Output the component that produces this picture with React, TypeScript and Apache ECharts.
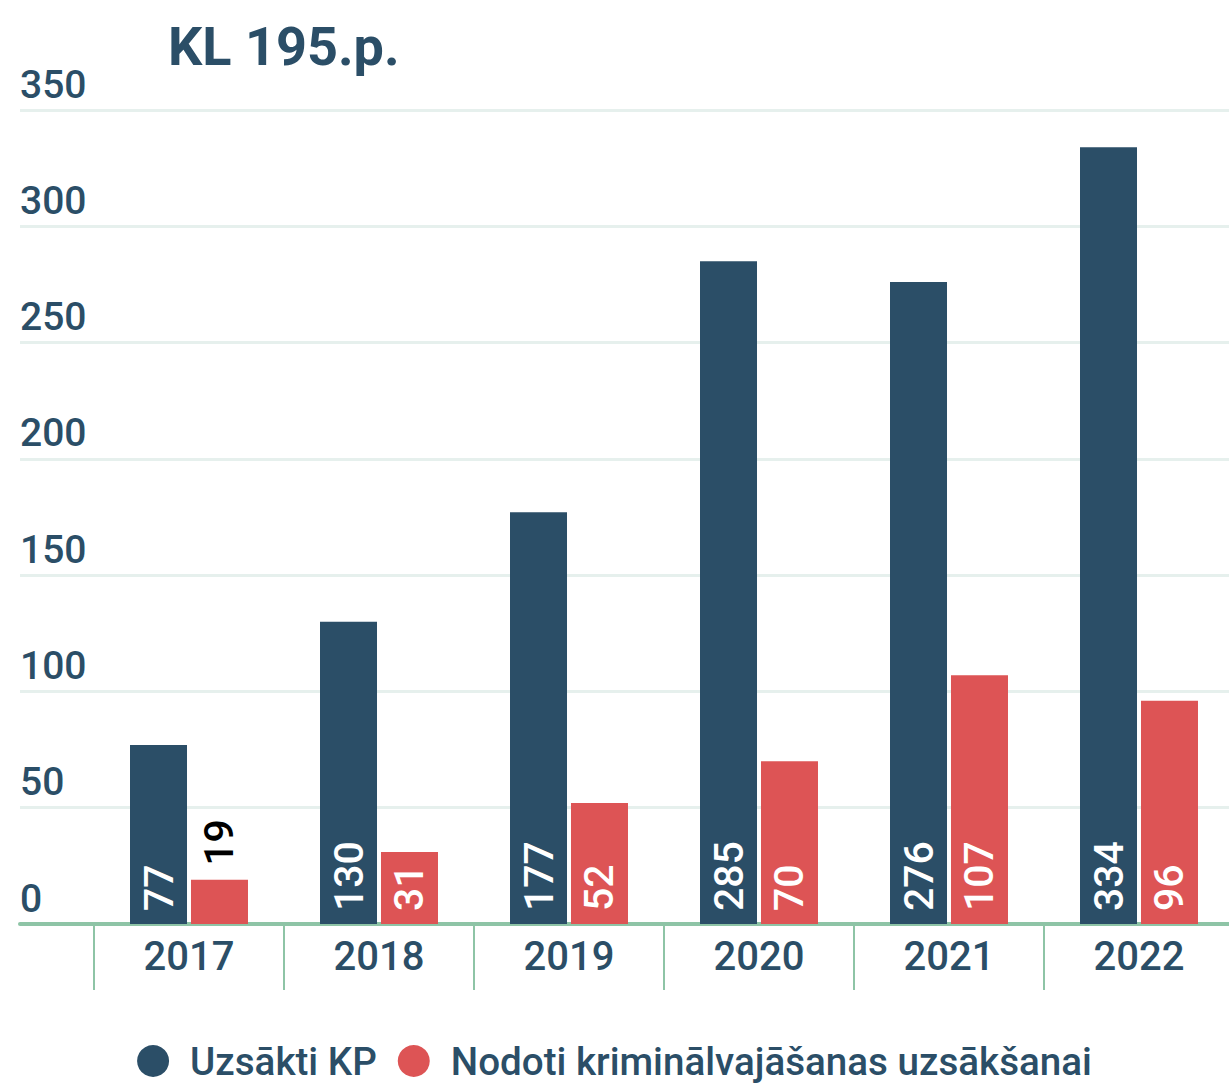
import React, { useEffect, useRef } from "react";
import * as echarts from "echarts";

const years = ["2017", "2018", "2019", "2020", "2021", "2022"];
const started = [77, 130, 177, 285, 276, 334];
const referred = [19, 31, 52, 70, 107, 96];
const seriesNames = ["Uzsākti KP", "Nodoti kriminālvajāšanas uzsākšanai"];
const titleText = "KL 195.p.";

const BLUE = "#2b4e67";
const RED = "#dd5455";
const GREEN = "#8ec4a6";
const TEXT = "#2b4e67";
const FONT = "Roboto";

export default function App() {
  const ref = useRef<HTMLDivElement>(null);
  useEffect(() => {
    if (!ref.current) return;
    const chart = echarts.init(ref.current, null, { renderer: "svg" });
    const insideLabel = {
      show: true,
      position: "insideBottom",
      rotate: 90,
      align: "left",
      verticalAlign: "middle",
      distance: 13,
      color: "#ffffff",
      fontSize: 41,
      fontWeight: 500,
      fontFamily: FONT,
    };
    const smallThreshold = 25;
    chart.setOption({
      animation: false,
      textStyle: { fontFamily: FONT },
      title: {
        text: titleText,
        left: 163,
        top: 14,
        textStyle: { color: TEXT, fontSize: 54, fontWeight: "bold", fontFamily: FONT },
      },
      legend: {
        top: 1036,
        left: "center",
        icon: "circle",
        itemWidth: 32,
        itemHeight: 32,
        itemGap: 21,
        textStyle: {
          color: TEXT,
          fontSize: 38.6,
          lineHeight: 40,
          fontFamily: FONT,
          fontWeight: 500,
          padding: [0, 0, 0, 16],
        },
        data: seriesNames,
      },
      grid: [
        { left: 20, right: 0, top: 110, bottom: 160, outerBoundsMode: "none" },
        { left: 94, width: 1140, top: 110, bottom: 160, outerBoundsMode: "none" },
      ],
      xAxis: [
        {
          gridIndex: 0,
          type: "value",
          min: 0,
          max: 1,
          axisLine: { show: true, onZero: false, lineStyle: { color: GREEN, width: 4 } },
          axisTick: { show: false },
          axisLabel: { show: false },
          splitLine: { show: false },
        },
        {
          gridIndex: 1,
          type: "category",
          data: years,
          axisLine: { show: false },
          axisTick: {
            show: true,
            interval: 0,
            alignWithLabel: false,
            length: 66,
            lineStyle: { color: GREEN, width: 2 },
          },
          axisLabel: {
            color: TEXT,
            fontSize: 40,
            fontFamily: FONT,
            fontWeight: 500,
            margin: 12,
            interval: 0,
          },
        },
      ],
      yAxis: [
        {
          gridIndex: 0,
          type: "value",
          min: 0,
          max: 350,
          interval: 50,
          axisLine: { show: false },
          axisTick: { show: false },
          splitLine: { show: true, lineStyle: { color: "#e6f0ed", width: 3 } },
          axisLabel: {
            inside: true,
            margin: 0,
            align: "left",
            verticalAlign: "bottom",
            padding: [0, 0, 6, 0],
            color: TEXT,
            fontSize: 39,
            fontFamily: FONT,
            fontWeight: 500,
          },
        },
        {
          gridIndex: 1,
          type: "value",
          min: 0,
          max: 350,
          interval: 50,
          show: false,
          splitLine: { show: false },
        },
      ],
      series: [
        {
          name: seriesNames[0],
          type: "bar",
          xAxisIndex: 1,
          yAxisIndex: 1,
          barWidth: 57,
          barGap: "7%",
          itemStyle: { color: BLUE },
          label: insideLabel,
          data: started,
        },
        {
          name: seriesNames[1],
          type: "bar",
          xAxisIndex: 1,
          yAxisIndex: 1,
          barWidth: 57,
          barGap: "7%",
          itemStyle: { color: RED },
          label: insideLabel,
          data: referred.map((v) =>
            v < smallThreshold
              ? {
                  value: v,
                  label: {
                    show: true,
                    position: "top",
                    rotate: 90,
                    align: "left",
                    verticalAlign: "middle",
                    distance: 14,
                    color: "#000000",
                    fontSize: 41,
                    fontWeight: 500,
                    fontFamily: FONT,
                  },
                }
              : v
          ),
        },
      ],
    });
    return () => chart.dispose();
  }, []);
  return (
    <div
      ref={ref}
      style={{ position: "fixed", left: 0, top: 0, width: 1229, height: 1084, background: "#fff" }}
    />
  );
}
